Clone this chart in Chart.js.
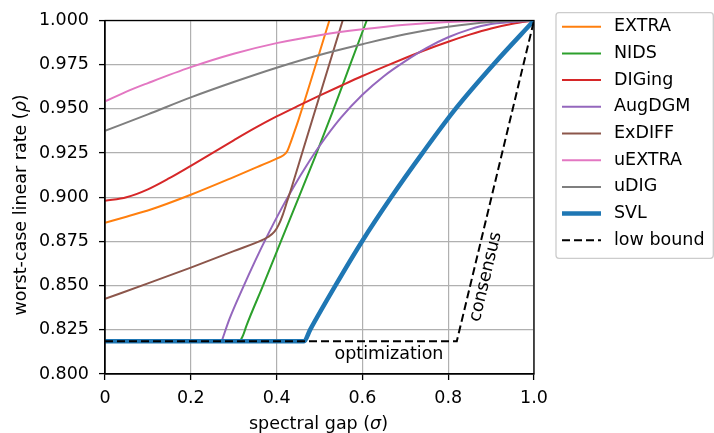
<!DOCTYPE html>
<html><head><meta charset="utf-8">
<script src="https://cdn.jsdelivr.net/npm/chart.js@4/dist/chart.umd.min.js"></script>
<style>html,body{margin:0;padding:0;background:#fff;}#wrap{width:714px;height:433px;}</style>
</head><body><div id="wrap"><canvas id="c" width="714" height="433"></canvas></div>
<script>
// ---- tick labels ----
const xTicks = [0, 0.2, 0.4, 0.6, 0.8, 1.0];
const yTicks = [0.8, 0.825, 0.85, 0.875, 0.9, 0.925, 0.95, 0.975, 1.0];

// ---- series (sigma = spectral gap, rho = worst-case linear rate) ----
const extraSigma = [0, 0.05, 0.105, 0.2, 0.3, 0.35, 0.4, 0.415, 0.425, 0.432, 0.44, 0.452, 0.523];
const extraRho   = [0.8855, 0.889, 0.8929, 0.9014, 0.9114, 0.9166, 0.9219, 0.9236, 0.9262, 0.9305, 0.936, 0.9445, 1.0];

const nidsSigma = [0.315, 0.322, 0.33, 0.37, 0.41, 0.45, 0.49, 0.53, 0.57, 0.61];
const nidsRho   = [0.8185, 0.822, 0.8275, 0.851, 0.875, 0.899, 0.923, 0.948, 0.974, 1.0];

const digingSigma = [0, 0.05, 0.1, 0.15, 0.2, 0.25, 0.3, 0.35, 0.4, 0.45, 0.5, 0.55, 0.6, 0.65, 0.7, 0.75, 0.8, 0.85, 0.9, 0.95, 1.0];
const digingRho   = [0.898, 0.9, 0.9045, 0.9108, 0.9178, 0.925, 0.9322, 0.9392, 0.9457, 0.9517, 0.9575, 0.9631, 0.9686, 0.9738, 0.9788, 0.9836, 0.988, 0.992, 0.9955, 0.9982, 1.0];

const augdgmSigma = [0.272, 0.29, 0.32, 0.35, 0.38, 0.41, 0.44, 0.47, 0.5, 0.55, 0.6, 0.65, 0.7, 0.75, 0.8, 0.85, 0.9, 1.0];
const augdgmRho   = [0.8185, 0.831, 0.848, 0.864, 0.879, 0.893, 0.906, 0.918, 0.929, 0.945, 0.958, 0.9685, 0.977, 0.9845, 0.9905, 0.995, 0.998, 1.0];

const exdiffSigma = [0, 0.1, 0.2, 0.3, 0.37, 0.38, 0.395, 0.405, 0.415, 0.425, 0.435, 0.462, 0.554];
const exdiffRho   = [0.8425, 0.8513, 0.8602, 0.8695, 0.8762, 0.8775, 0.8805, 0.8845, 0.8905, 0.898, 0.9055, 0.927, 1.0];

const uextraSigma = [0, 0.05, 0.1, 0.2, 0.3, 0.4, 0.5, 0.6, 0.7, 0.8, 0.9, 1.0];
const uextraRho   = [0.9542, 0.9598, 0.9646, 0.9736, 0.9812, 0.9872, 0.9917, 0.995, 0.9976, 0.9992, 0.9999, 1.0];

const udigSigma = [0, 0.1, 0.2, 0.3, 0.4, 0.5, 0.6, 0.7, 0.8, 0.9, 1.0];
const udigRho   = [0.9376, 0.9469, 0.9565, 0.9652, 0.9733, 0.9805, 0.9866, 0.9922, 0.9965, 0.9992, 1.0];

const svlSigma = [0, 0.464, 0.478, 0.537, 0.599, 0.667, 0.74, 0.817, 0.905, 1.0];
const svlRho   = [0.8185, 0.8185, 0.825, 0.85, 0.875, 0.9, 0.925, 0.95, 0.975, 1.0];

const lowSigma = [0, 0.82, 1.0];
const lowRho   = [0.8185, 0.8185, 1.0];

const seriesNames = ['EXTRA', 'NIDS', 'DIGing', 'AugDGM', 'ExDIFF', 'uEXTRA', 'uDIG', 'SVL', 'low bound'];
const seriesColors = ['#ff7f0e', '#2ca02c', '#d62728', '#9467bd', '#8c564b', '#e377c2', '#7f7f7f', '#1f77b4', '#000000'];

const FONT = 'DejaVu Sans';
const FS = 17.5;

function pts(xs, ys) { return xs.map((x, i) => ({x: x, y: ys[i]})); }
const allSeries = [
  pts(extraSigma, extraRho), pts(nidsSigma, nidsRho), pts(digingSigma, digingRho),
  pts(augdgmSigma, augdgmRho), pts(exdiffSigma, exdiffRho), pts(uextraSigma, uextraRho),
  pts(udigSigma, udigRho), pts(svlSigma, svlRho), pts(lowSigma, lowRho)
];
const N = allSeries.length;
const datasets = allSeries.map((d, i) => ({
  label: seriesNames[i],
  data: d,
  borderColor: seriesColors[i],
  backgroundColor: seriesColors[i],
  borderWidth: i === 7 ? 4.5 : 2,
  borderDash: i === 8 ? [8, 4] : [],
  pointRadius: 0,
  fill: false,
  cubicInterpolationMode: (i === 8) ? 'default' : 'monotone',
  tension: 0,
  clip: 0,
  order: N - i
}));

// draws "normal(italic)normal" text pieces starting at x=0 on current transform
function drawMixed(ctx, parts, fs) {
  let w = 0;
  parts.forEach(p => { ctx.font = (p.it ? 'italic ' : '') + fs + 'px "' + FONT + '"'; p.w = ctx.measureText(p.t).width; w += p.w; });
  return w;
}
function paintMixed(ctx, parts, fs, x0, y0) {
  let x = x0;
  parts.forEach(p => { ctx.font = (p.it ? 'italic ' : '') + fs + 'px "' + FONT + '"'; ctx.fillText(p.t, x, y0); x += p.w; });
}

const frameAndNotes = {
  id: 'frameAndNotes',
  afterDatasetsDraw(chart) {
    const {ctx, chartArea: a, scales: {x, y}} = chart;
    ctx.save();
    ctx.strokeStyle = '#000'; ctx.lineWidth = 1.3;
    ctx.strokeRect(a.left, a.top, a.right - a.left, a.bottom - a.top);
    ctx.fillStyle = '#000';
    ctx.font = FS + 'px "' + FONT + '"';
    ctx.textAlign = 'center'; ctx.textBaseline = 'alphabetic';
    ctx.fillText('optimization', x.getPixelForValue(0.662), y.getPixelForValue(0.8085));
    const x0 = x.getPixelForValue(lowSigma[1]), y0 = y.getPixelForValue(lowRho[1]);
    const x1 = x.getPixelForValue(lowSigma[2]), y1 = y.getPixelForValue(lowRho[2]);
    const ang = Math.atan2(y1 - y0, x1 - x0);
    ctx.save();
    ctx.translate(x.getPixelForValue(0.8875), y.getPixelForValue(0.855));
    ctx.rotate(ang);
    ctx.textBaseline = 'middle';
    ctx.fillText('consensus', 0, 0);
    ctx.restore();
    // axis titles
    ctx.textAlign = 'left'; ctx.textBaseline = 'alphabetic';
    const xt = [{t: 'spectral gap ('}, {t: 'σ', it: true}, {t: ')'}];
    const wx = drawMixed(ctx, xt, FS);
    paintMixed(ctx, xt, FS, (a.left + a.right) / 2 - 1 - wx / 2, 429);
    const yt = [{t: 'worst-case linear rate ('}, {t: 'ρ', it: true}, {t: ')'}];
    const wy = drawMixed(ctx, yt, FS);
    ctx.save();
    ctx.translate(26, 205 + wy / 2);
    ctx.rotate(-Math.PI / 2);
    paintMixed(ctx, yt, FS, 0, 0);
    ctx.restore();
    ctx.restore();
  },
  afterDraw(chart) {
    const {ctx} = chart;
    ctx.save();
    const L = 556, T = 12.7, R = 713.3, B = 258.3, r = 3;
    ctx.beginPath();
    ctx.moveTo(L + r, T); ctx.lineTo(R - r, T); ctx.arcTo(R, T, R, T + r, r);
    ctx.lineTo(R, B - r); ctx.arcTo(R, B, R - r, B, r);
    ctx.lineTo(L + r, B); ctx.arcTo(L, B, L, B - r, r);
    ctx.lineTo(L, T + r); ctx.arcTo(L, T, L + r, T, r);
    ctx.closePath();
    ctx.fillStyle = 'rgba(255,255,255,0.8)'; ctx.fill();
    ctx.strokeStyle = '#cccccc'; ctx.lineWidth = 1.3; ctx.stroke();
    ctx.font = FS + 'px "' + FONT + '"';
    ctx.textAlign = 'left'; ctx.textBaseline = 'middle';
    chart.data.datasets.forEach((ds, i) => {
      const yy = 26.7 + i * 26.7;
      ctx.beginPath();
      ctx.setLineDash(ds.borderDash || []);
      ctx.strokeStyle = ds.borderColor; ctx.lineWidth = ds.borderWidth;
      ctx.moveTo(562, yy); ctx.lineTo(601, yy); ctx.stroke();
      ctx.setLineDash([]);
      ctx.fillStyle = '#000';
      ctx.fillText(ds.label, 614, yy);
    });
    ctx.restore();
  }
};

new Chart(document.getElementById('c'), {
  type: 'line',
  data: {datasets: datasets},
  options: {
    responsive: false, animation: false, devicePixelRatio: 1,
    layout: {padding: {left: 0, right: 180, top: 13, bottom: 0}},
    plugins: {legend: {display: false}, tooltip: {enabled: false}},
    scales: {
      x: {
        type: 'linear', min: 0, max: 1,
        afterBuildTicks: s => { s.ticks = xTicks.map(v => ({value: v})); },
        afterFit: s => { s.height = 59; },
        ticks: {callback: v => v === 0 ? '0' : v.toFixed(1), font: {family: FONT, size: FS}, color: '#000', padding: 8, maxRotation: 0, autoSkip: false},
        grid: {color: '#b0b0b0', lineWidth: 1.2, tickLength: 6, tickColor: '#000', tickWidth: 1.3},
        border: {display: true, color: '#000', width: 1.3},
        title: {display: false, text: 'spectral gap (σ)'}
      },
      y: {
        type: 'linear', min: 0.8, max: 1,
        afterBuildTicks: s => { s.ticks = yTicks.map(v => ({value: v})); },
        afterFit: s => { s.width = 105; },
        ticks: {callback: v => v.toFixed(3), font: {family: FONT, size: FS}, color: '#000', padding: 10, autoSkip: false},
        grid: {color: '#b0b0b0', lineWidth: 1.2, tickLength: 6, tickColor: '#000', tickWidth: 1.3},
        border: {display: true, color: '#000', width: 1.3},
        title: {display: false, text: 'worst-case linear rate (ρ)'}
      }
    }
  },
  plugins: [frameAndNotes]
});
</script></body></html>
